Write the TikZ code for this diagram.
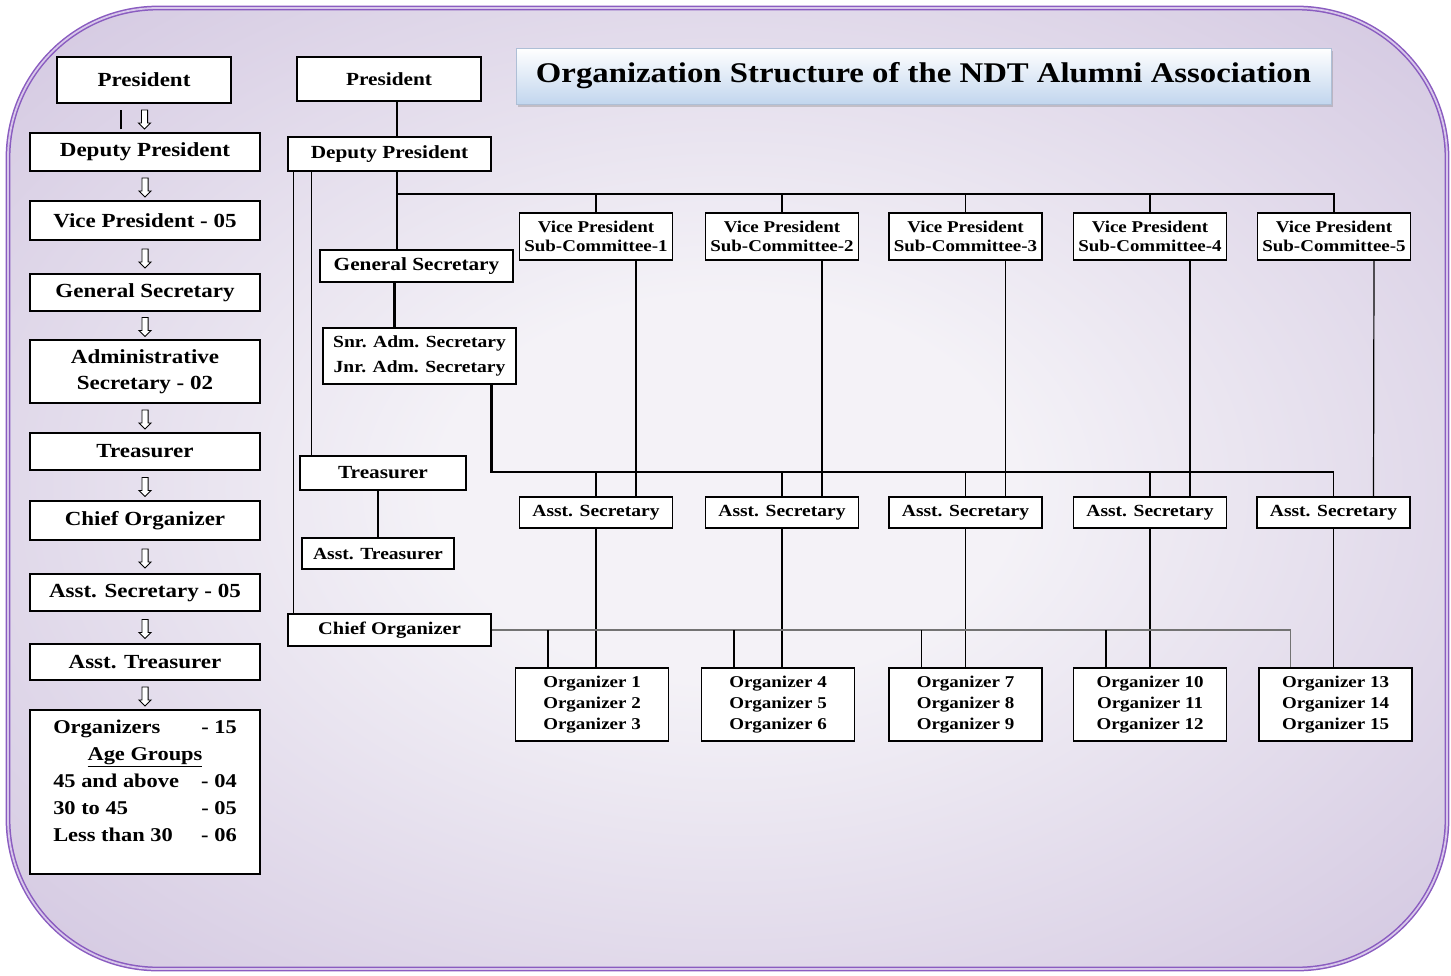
\documentclass[tikz,border=0pt]{standalone}
\usepackage{fontspec}
\setmainfont{Liberation Serif}[FakeStretch=1.15]
\usepackage{tikz}
\usetikzlibrary{calc,shapes.arrows,shadows}

\definecolor{bgin}{HTML}{F4F2F7}
\definecolor{bgout}{HTML}{C0AFD4}
\definecolor{framecol}{HTML}{8A5CC0}
\definecolor{framein}{HTML}{D8C8EA}
\definecolor{titleblue}{HTML}{C2D6EE}
\definecolor{titleedge}{HTML}{AEBFD6}
\pgfdeclareradialshading{bgshade}{\pgfpointorigin}{color(0bp)=(bgin); color(10bp)=(bgin); color(50bp)=(bgout); color(75bp)=(bgout)}

\begin{document}
\begin{tikzpicture}[x=1pt,y=-1pt,
  lbox/.style={draw, line width=1.1pt, fill=white, minimum width=230pt, inner sep=0pt, align=center, font=\fontsize{20}{26}\selectfont\bfseries},
  mbox/.style={draw, line width=1.1pt, fill=white, inner sep=0pt, align=center, font=\fontsize{18.5}{25}\selectfont\bfseries},
  vpbox/.style={draw, line width=1.1pt, fill=white, minimum width=153pt, minimum height=47pt, inner sep=0pt, align=center, font=\fontsize{16.5}{19}\selectfont\bfseries},
  asbox/.style={vpbox, minimum height=31pt, font=\fontsize{17}{20}\selectfont\bfseries},
  orgbox/.style={vpbox, minimum height=73pt, font=\fontsize{16.5}{21}\selectfont\bfseries},
  titlebox/.style={draw=titleedge, top color=white, bottom color=titleblue, minimum width=815pt, minimum height=56pt, drop shadow={opacity=0.35, shadow xshift=2pt, shadow yshift=-3pt}, font=\fontsize{28.5}{32}\selectfont\bfseries},
  darrow/.style={single arrow, draw, fill=white, line width=0.9pt, minimum height=19pt, minimum width=12pt, inner sep=2.6pt, single arrow head extend=3pt, shape border rotate=270},
  link/.style={line width=1.2pt},
  thicklink/.style={line width=2.8pt},
  cobus/.style={draw=black!55, line width=1.8pt}]
\useasboundingbox (0,0) rectangle (1451,975);

% background panel
\shade[shading=bgshade, rounded corners=150pt] (8,8) rectangle (1447,969);
\draw[rounded corners=150pt, draw=framecol, line width=1.5pt, double=framein, double distance=1.8pt] (8,8) rectangle (1447,969);

\node[titlebox] (title) at (923.5,76) {Organization Structure of the NDT Alumni Association};

% left column
\node[lbox, minimum width=174pt, minimum height=46pt] (lpres) at (144,80) {President};
\node[lbox, minimum height=38pt] (ldep) at (145,152) {Deputy President};
\node[lbox, minimum height=39pt] (lvp) at (145,220.5) {Vice President - 05};
\node[lbox, minimum height=37pt] (lgs) at (145,292.5) {General Secretary};
\node[lbox, minimum height=63pt] (ladm) at (145,371.5) {Administrative\\Secretary - 02};
\node[lbox, minimum height=37pt] (ltre) at (145,451.5) {Treasurer};
\node[lbox, minimum height=39pt] (lchief) at (145,520.5) {Chief Organizer};
\node[lbox, minimum height=37pt] (lasec) at (145,592.5) {Asst. Secretary - 05};
\node[lbox, minimum height=36pt] (latre) at (145,662) {Asst. Treasurer};
\node[lbox, minimum height=164pt, font=\fontsize{19.5}{27}\selectfont\bfseries] (lorg) at (145,792)
  {\begin{tabular}{@{}p{148pt}@{}l@{}}
   Organizers & - 15\\
   \multicolumn{2}{c}{\underline{Age Groups}}\\
   45 and above & - 04\\
   30 to 45 & - 05\\
   Less than 30 & - 06\\[20pt]
   \end{tabular}};
\foreach \a/\b in {lpres/ldep,ldep/lvp,lvp/lgs,lgs/ladm,ladm/ltre,ltre/lchief,lchief/lasec,lasec/latre,latre/lorg}
  \node[darrow] (arr-\a) at ($(\a.south)!0.5!(\b.north)$) {};
\draw[link] ([xshift=-24pt,yshift=3pt]ldep.north) -- ++(0,-19);

% office bearers
\node[mbox, minimum width=184pt, minimum height=44pt] (pres) at (389,79) {President};
\node[mbox, minimum width=203pt, minimum height=34pt] (dep) at (389.5,154) {Deputy President};
\node[mbox, minimum width=193pt, minimum height=32pt] (gs) at (416.5,266) {General Secretary};
\node[mbox, minimum width=193pt, minimum height=56pt, font=\fontsize{17}{25}\selectfont\bfseries] (adm) at (419.5,356) {Snr. Adm. Secretary\\Jnr. Adm. Secretary};
\node[mbox, minimum width=166pt, minimum height=34pt] (tre) at (383,473) {Treasurer};
\node[mbox, minimum width=152pt, minimum height=31pt, font=\fontsize{17}{20}\selectfont\bfseries] (atre) at (378,553.5) {Asst. Treasurer};
\node[mbox, minimum width=203pt, minimum height=32pt, font=\fontsize{17.8}{20}\selectfont\bfseries] (chief) at (389.5,630) {Chief Organizer};

% sub-committees
\foreach \i/\x in {1/596,2/782,3/965.5,4/1150,5/1334}
  \node[vpbox] (vp\i) at (\x,236.5) {Vice President\\Sub-Committee-\i};
\foreach \i/\x in {1/596,2/782,3/965.5,4/1150,5/1333.5}
  \node[asbox] (asec\i) at (\x,512.5) {Asst. Secretary};
\foreach \i/\x/\a/\b/\c in {1/592/1/2/3,2/778/4/5/6,3/965.5/7/8/9,4/1150/10/11/12,5/1335.5/13/14/15}
  \node[orgbox] (org\i) at (\x,704.5) {Organizer \a\\Organizer \b\\Organizer \c};

\coordinate (hub) at (397,194);
\coordinate (sbus) at (0,472);

\draw[link] (pres.south -| hub) -- (dep.north -| hub);
\draw[link] (dep.south -| hub) -- (gs.north -| hub);
\foreach \i in {1,...,5}
  \draw[link] (hub) -| (vp\i.north);
\draw[link] ([xshift=6pt]dep.south west) -- ([xshift=6pt]chief.north west);
\draw[link] ([xshift=24pt]dep.south west) -- ([xshift=24pt]dep.south west |- tre.north);
\draw[thicklink] ([xshift=-22pt]gs.south) -- ([xshift=-22pt]gs.south |- adm.north);
\draw[link] (atre.north |- tre.south) -- (atre.north);

% secretaries bus
\draw[thicklink] ([xshift=72pt]adm.south) |- (asec5.north |- sbus);
\foreach \i in {1,...,5}
  \draw[link] (asec\i.north) -- (asec\i.north |- sbus);
\foreach \i/\w in {1/thicklink,2/link,3/link,4/link,5/link}
  \draw[\w] ([xshift=40pt]vp\i.south) -- ([xshift=40pt]asec\i.north);
\foreach \i in {1,...,5}
  \draw[link] (asec\i.south) -- (asec\i.south |- org\i.north);

% chief organizer bus
\draw[cobus] (chief.east) -| ([xshift=-45pt]org5.north);
\foreach \i/\w in {1/thicklink,2/link,3/link,4/thicklink}
  \draw[\w] ([xshift=-44pt]org\i.north |- chief.east) -- ([xshift=-44pt]org\i.north);
\end{tikzpicture}
\end{document}
